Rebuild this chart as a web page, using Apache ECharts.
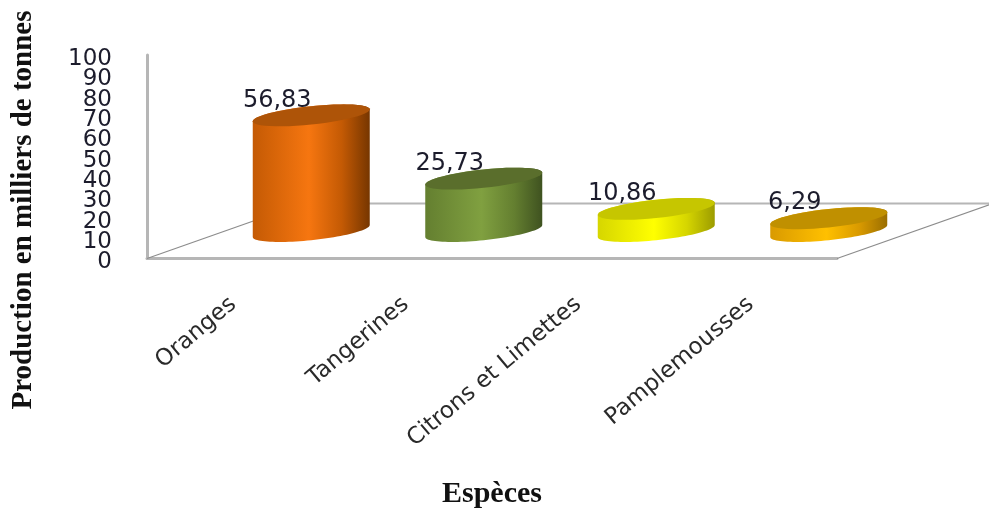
<!DOCTYPE html>
<html>
<head>
<meta charset="utf-8">
<style>html,body{margin:0;padding:0;background:#fff}#chart{width:989px;height:510px}</style>
<script src="https://cdn.jsdelivr.net/npm/echarts@6/dist/echarts.min.js"></script>
</head>
<body>
<div id="chart"></div>
<script>
// Production d'agrumes par espèce, en milliers de tonnes
const categories = ['Oranges', 'Tangerines', 'Citrons et Limettes', 'Pamplemousses'];
const production = [56.83, 25.73, 10.86, 6.29];
const axisEnds = [0, 100];
const sideEdge = ['#c45a04', '#647f30', '#d6d600', '#d99a00'];
const sideLight = ['#f67610', '#80a040', '#ffff00', '#ffc000'];
const sideDark = ['#763600', '#3f5220', '#9c9c00', '#9a6e00'];
const capColor = ['#ae5408', '#5a6e2c', '#c6c600', '#c09000'];

const axisFont = '"DejaVu Sans"';
const gray = '#b6b6b6';

// Perspective of the floor: vector from its front edge to its back edge
const floorDepth = { x: 156, y: -55 };
const cylRx = 58.5, cylRy = 9.2, cylTilt = 6;

function ellipsePoint(cx, cy, t) {
  return [cx + cylRx * Math.cos(t), cy - cylRy * Math.sin(t) - cylTilt * Math.cos(t)];
}
function arcPoints(cx, cy, from, to) {
  const pts = [];
  for (let i = 0; i <= 48; i++) pts.push(ellipsePoint(cx, cy, from + (to - from) * i / 48));
  return pts;
}

function renderFloor(params) {
  const c = params.coordSys;
  const yf = c.y + c.height, xl = c.x, xr = c.x + c.width;
  const dx = floorDepth.x, dy = floorDepth.y;
  const seg = (x1, y1, x2, y2, w, col) => ({
    type: 'line',
    shape: { x1, y1, x2, y2 },
    style: { stroke: col, lineWidth: w }
  });
  return {
    type: 'group',
    children: [
      seg(xl + dx, yf + dy, xr + dx, yf + dy, 2, gray),
      seg(xl, yf, xl + dx, yf + dy, 1.2, '#8c8c8c'),
      seg(xr, yf, xr + dx, yf + dy, 1.2, '#8c8c8c')
    ]
  };
}

function renderCylinder(params, api) {
  const i = api.value(0);
  const v = api.value(1);
  const top = api.coord([i, v]);
  const base = api.coord([i, 0]);
  const cx = top[0] + floorDepth.x / 2;
  const yt = top[1] + floorDepth.y / 2;
  const yb = base[1] + floorDepth.y / 2;
  const side = arcPoints(cx, yb, Math.PI, 2 * Math.PI).concat(arcPoints(cx, yt, 0, Math.PI));
  return {
    type: 'group',
    children: [
      {
        type: 'polygon',
        shape: { points: side },
        style: {
          fill: new echarts.graphic.LinearGradient(0, 0, 1, 0, [
            { offset: 0, color: sideEdge[i] },
            { offset: 0.48, color: sideLight[i] },
            { offset: 0.76, color: sideEdge[i] },
            { offset: 1, color: sideDark[i] }
          ])
        }
      },
      {
        type: 'polygon',
        shape: { points: arcPoints(cx, yt, 0, 2 * Math.PI) },
        style: { fill: capColor[i] }
      },
      {
        type: 'text',
        x: cx - 34,
        y: yt - 15,
        style: {
          text: v.toFixed(2).replace('.', ','),
          font: '24px ' + axisFont,
          fill: '#1c1c2c',
          align: 'center',
          verticalAlign: 'middle'
        }
      }
    ]
  };
}

const valueLabelStyle = {
  margin: 35,
  verticalAlign: 'top',
  lineHeight: 8,
  fontFamily: 'DejaVu Sans',
  fontSize: 23,
  color: '#1c1c2c'
};

const chart = echarts.init(document.getElementById('chart'), null, { renderer: 'canvas' });
chart.setOption({
  animation: false,
  backgroundColor: '#ffffff',
  grid: { left: 147, top: 55, width: 690, height: 203.5, outerBoundsMode: 'none' },
  xAxis: {
    type: 'category',
    data: categories,
    name: 'Espèces',
    nameLocation: 'middle',
    nameGap: 221,
    nameTextStyle: { fontFamily: 'Liberation Serif', fontWeight: 'bold', fontSize: 30, color: '#111' },
    axisLine: { show: true, lineStyle: { color: gray, width: 3 } },
    axisTick: { show: false },
    axisLabel: { rotate: 40, margin: 43, interval: 0, fontFamily: 'DejaVu Sans', fontSize: 23, color: '#2a2a2a' }
  },
  yAxis: [
    {
      // Main scale: the tens between both ends, which sit too close for the overlap check
      type: 'value',
      position: 'left',
      min: 0,
      max: 100,
      interval: 10,
      axisLine: { show: true, lineStyle: { color: gray, width: 3 } },
      axisTick: { show: false },
      splitLine: { show: false },
      axisLabel: Object.assign({ showMinLabel: false, showMaxLabel: false }, valueLabelStyle)
    },
    {
      // Same scale, carrying only the two end labels
      type: 'value',
      position: 'left',
      min: 0,
      max: 100,
      axisLine: { show: false },
      axisTick: { show: false },
      splitLine: { show: false },
      axisLabel: Object.assign({ customValues: axisEnds }, valueLabelStyle)
    }
  ],
  graphic: [{
    type: 'text',
    rotation: Math.PI / 2,
    x: 24,
    y: 210,
    style: {
      text: 'Production en milliers de tonnes',
      font: 'bold 29px "Liberation Serif"',
      fill: '#111',
      align: 'center',
      verticalAlign: 'middle'
    }
  }],
  series: [
    { type: 'custom', z: 1, silent: true, clip: false, data: [[0, 0]], renderItem: renderFloor },
    {
      type: 'custom',
      z: 2,
      clip: false,
      data: production.map((v, i) => [i, v]),
      encode: { x: 0, y: 1 },
      renderItem: renderCylinder
    }
  ]
});
</script>
</body>
</html>
